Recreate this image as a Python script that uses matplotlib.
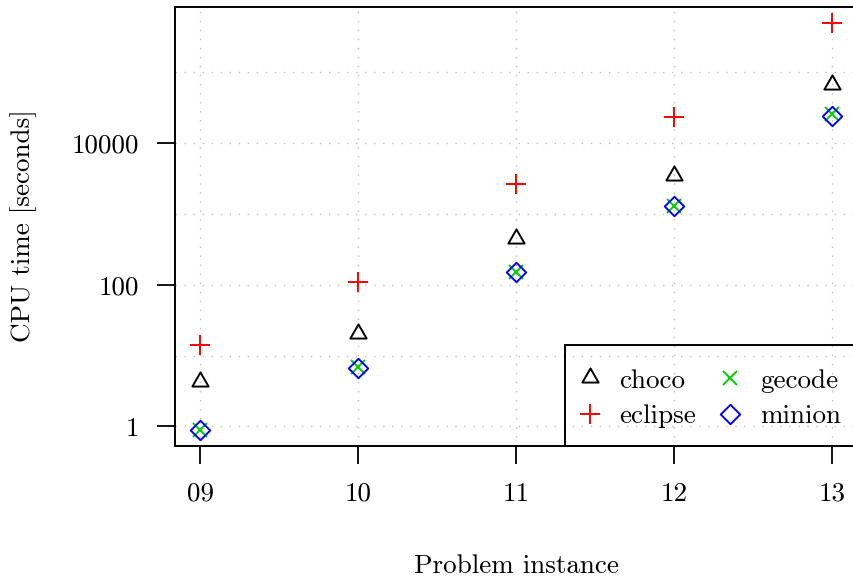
import numpy as np
import matplotlib
matplotlib.use("Agg")
import matplotlib.pyplot as plt
from matplotlib.path import Path
from matplotlib.patches import Rectangle

plt.rcParams['font.family'] = ['cmr10', 'DejaVu Serif']
plt.rcParams['mathtext.fontset'] = 'cm'
plt.rcParams['axes.formatter.use_mathtext'] = True

instances = ["09", "10", "11", "12", "13"]
choco = [4.3, 20, 440, 3450, 65000]
eclipse = [14, 108, 2650, 23000, 490000]
gecode = [0.9, 7.0, 150, 1300, 26000]
minion = [0.9, 6.8, 150, 1280, 24000]
yticks = [1, 100, 10000]
ytick_labels = ["1", "100", "10000"]
ygrid = [1, 10, 100, 1000, 10000, 100000]

W, H = 854, 584
fig = plt.figure(figsize=(W / 100, H / 100), dpi=100)
L, R, T, B = 175, 857, 7, 446
ax = fig.add_axes([L / W, 1 - B / H, (R - L) / W, (B - T) / H])

x = np.arange(9, 9 + len(instances))

tri = Path([(0, 0.62), (-0.5, -0.25), (0.5, -0.25), (0, 0.62)],
           [Path.MOVETO, Path.LINETO, Path.LINETO, Path.CLOSEPOLY])
dia = Path([(0, 0.5), (0.5, 0), (0, -0.5), (-0.5, 0), (0, 0.5)],
           [Path.MOVETO, Path.LINETO, Path.LINETO, Path.LINETO, Path.CLOSEPOLY])

mew = 1.4
ax.plot(x, choco, linestyle='none', marker=tri, ms=14.5, mfc='none', mec='black', mew=mew, label='choco')
ax.plot(x, eclipse, linestyle='none', marker='+', ms=14.5, mec='#ff0000', mew=mew, label='eclipse')
ax.plot(x, gecode, linestyle='none', marker='x', ms=10, mec='#00cd00', mew=mew, label='gecode')
ax.plot(x, minion, linestyle='none', marker=dia, ms=14, mfc='none', mec='#0000ff', mew=mew, label='minion')

ax.set_yscale('log')
allv = np.log10(np.concatenate([choco, eclipse, gecode, minion]))
lo, hi = allv.min(), allv.max()
d = 0.04 * (hi - lo)
ax.set_ylim(10 ** (lo - d), 10 ** (hi + d))
ax.set_xlim(x[0] - 0.04 * (x[-1] - x[0]), x[-1] + 0.04 * (x[-1] - x[0]))

grid_kw = dict(color='#bebebe', linewidth=1.0, linestyle=(0, (1, 5.5)), zorder=0)
for g in ygrid:
    ax.axhline(g, **grid_kw)
for xi in x:
    ax.axvline(xi, **grid_kw)

ax.set_xticks(x)
ax.set_xticklabels(instances)
ax.set_yticks(yticks)
ax.set_yticklabels(ytick_labels)
ax.yaxis.set_minor_locator(matplotlib.ticker.NullLocator())
ax.tick_params(axis='both', which='major', length=13, width=1.3, labelsize=19.5, direction='out')
ax.tick_params(axis='x', pad=13)
ax.tick_params(axis='y', pad=13)
for s in ax.spines.values():
    s.set_linewidth(1.4)

def axfrac(px, py):
    return ((px - L) / (R - L), (B - py) / (B - T))

leg = ax.legend(loc='lower right', ncol=2, fontsize=19.5, frameon=False,
                bbox_to_anchor=axfrac(841, 428),
                borderaxespad=0, borderpad=0, handlelength=0.8, handletextpad=0.7,
                columnspacing=0.85, labelspacing=0.41)

x0, y0 = axfrac(565, 446)
x1, y1 = axfrac(857, 345)
ax.add_patch(Rectangle((x0, y0), x1 - x0, y1 - y0, transform=ax.transAxes,
                       fill=False, edgecolor='black', linewidth=1.4, clip_on=False, zorder=5))

fig.text(516 / W, 1 - 566 / H, "Problem instance", ha='center', va='center', fontsize=19.5)
fig.text(24 / W, 1 - 226 / H, "CPU time [seconds]", ha='center', va='center', rotation=90, fontsize=19.5)

fig.savefig("out.png", dpi=100)
